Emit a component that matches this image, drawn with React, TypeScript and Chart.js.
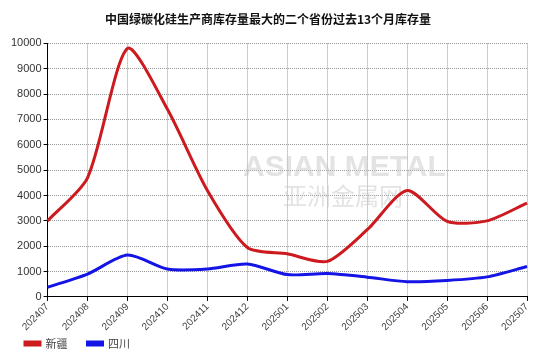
import React, { useEffect, useRef } from "react";
import { Chart, registerables } from "chart.js";

Chart.register(...registerables);

const months = ["202407","202408","202409","202410","202411","202412","202501","202502","202503","202504","202505","202506","202507"];
const xinjiang = [3000, 4700, 9800, 7400, 4200, 1950, 1700, 1400, 2650, 4200, 2980, 3000, 3700];
const sichuan = [380, 900, 1650, 1100, 1100, 1300, 880, 920, 780, 600, 650, 790, 1200];
const titleText = "中国绿碳化硅生产商库存量最大的二个省份过去13个月库存量";
const seriesNames = ["新疆", "四川"];

const LEGEND_PAD = 20;

const watermark = {
  id: "watermark",
  beforeLayout(chart: any) {
    const lg = chart.legend;
    if (lg && !lg._patched) {
      const f = lg.fit;
      lg.fit = function () {
        f.call(this);
        this.height -= LEGEND_PAD - 5;
      };
      lg._patched = true;
    }
  },
  afterLayout(chart: any) {
    const lg = chart.legend;
    if (lg) {
      lg.left -= 4;
      lg.top -= LEGEND_PAD - 5;
      lg.height += LEGEND_PAD - 5;
    }
  },
  beforeDatasetsDraw(chart: any) {
    const ctx = chart.ctx;
    ctx.save();
    ctx.fillStyle = "rgba(200,200,200,0.5)";
    ctx.font = "bold 30px 'Liberation Sans', Arial, sans-serif";
    ctx.textBaseline = "middle";
    ctx.fillText("ASIAN METAL", 243, 168);
    ctx.font = "24px 'Noto Sans CJK SC', sans-serif";
    ctx.fillText("亚洲金属网", 283, 196);
    ctx.restore();
  },
};

export default function App() {
  const ref = useRef<HTMLCanvasElement>(null);
  useEffect(() => {
    document.body.style.margin = "0";
    const chart = new Chart(ref.current!, {
      type: "line",
      data: {
        labels: months,
        datasets: [
          { label: seriesNames[0], data: xinjiang, borderColor: "#cc1a1f", backgroundColor: "#cc1a1f", borderWidth: 3, pointRadius: 0, tension: 0.25 },
          { label: seriesNames[1], data: sichuan, borderColor: "#1414e6", backgroundColor: "#1414e6", borderWidth: 3, pointRadius: 0, tension: 0.25 },
        ],
      },
      options: {
        animation: false,
        responsive: false,
        layout: { padding: { left: 9, right: 20, top: 4, bottom: 1 } },
        plugins: {
          title: {
            display: true,
            text: titleText,
            color: "#111",
            font: { family: "'Noto Sans CJK SC', sans-serif", size: 12, weight: "bold" },
            padding: { top: 8, bottom: 17 },
          },
          legend: {
            position: "bottom",
            align: "start",
            labels: {
              boxWidth: 15,
              boxHeight: 3,
              color: "#444",
              font: { family: "'Noto Sans CJK SC', sans-serif", size: 11 },
              padding: LEGEND_PAD,
            },
          },
          tooltip: { enabled: false },
        },
        scales: {
          x: {
            offset: false,
            grid: { color: "#999", tickColor: "#000", tickLength: 4, drawTicks: true },
            border: { color: "#000", width: 1, dash: [1, 1] },
            ticks: { color: "#444", minRotation: 45, maxRotation: 45, font: { family: "'Liberation Sans', Arial, sans-serif", size: 10 }, padding: 0 },
          },
          y: {
            min: 0,
            max: 10000,
            grid: { color: "#999", tickColor: "#000", tickLength: 4, drawTicks: true },
            border: { color: "#000", width: 1, dash: [1, 1] },
            ticks: { stepSize: 1000, color: "#333", font: { family: "'Liberation Sans', Arial, sans-serif", size: 11 }, padding: 2, callback: (v: any) => String(v) },
          },
        },
      },
      plugins: [watermark],
    });
    return () => chart.destroy();
  }, []);
  return (
    <div style={{ width: 547, height: 360 }}>
      <canvas ref={ref} width={547} height={360} />
    </div>
  );
}
